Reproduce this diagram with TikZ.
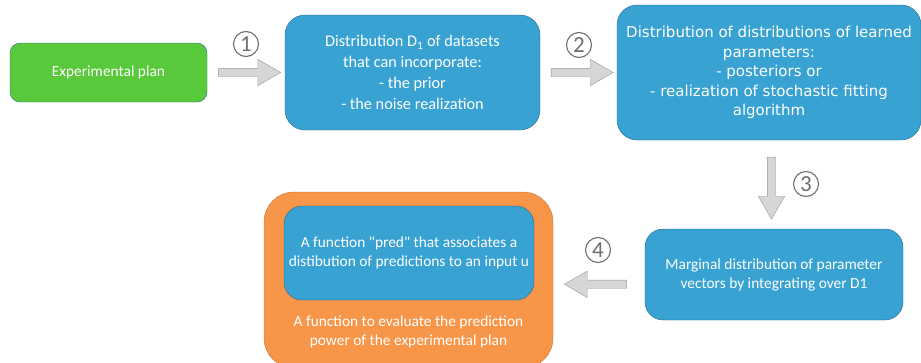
\documentclass[tikz,border=0pt]{standalone}
\usepackage{fontspec}
\setmainfont{Carlito}
\newfontfamily\dejavu{DejaVu Sans}
\usetikzlibrary{shapes.arrows,calc}

\definecolor{boxblue}{RGB}{56,162,210}
\definecolor{edgeblue}{RGB}{45,105,140}
\definecolor{plangreen}{RGB}{88,201,58}
\definecolor{evalorange}{RGB}{247,150,72}
\definecolor{edgeorange}{RGB}{190,115,55}
\definecolor{arrowgray}{RGB}{214,214,214}
\definecolor{arrowedge}{RGB}{150,150,150}
\definecolor{numgray}{RGB}{110,110,110}

\tikzset{
  box/.style={draw=edgeblue, fill=boxblue, text=white, rounded corners=#1,
    align=center, inner sep=0pt},
  box/.default=20pt,
  fatarrow/.style={single arrow, draw=arrowedge, fill=arrowgray,
    minimum height=62pt, minimum width=26pt, single arrow head extend=9pt,
    single arrow tip angle=60, inner sep=4pt},
  num/.style={circle, draw=numgray, line width=1.1pt, text=numgray,
    minimum size=25pt, inner sep=0pt, font=\fontsize{23}{23}\selectfont}
}

\begin{document}
\begin{tikzpicture}[x=1pt,y=-1pt]
    \useasboundingbox (0,0) rectangle (921,362);
    \clip (0,0) rectangle (921,362);
    % boxes
    \node[box=10pt, fill=plangreen, minimum width=197pt, minimum height=59pt,
      font=\fontsize{15.4}{20}\selectfont] (plan) at (108.5,72.5) {Experimental plan};
    \node[box, minimum width=255pt, minimum height=115pt,
      font=\fontsize{16.3}{21}\selectfont] (data) at (412.5,72.5)
      {Distribution D\textsubscript{1} of datasets\\that can incorporate:\\- the prior\\- the noise realization};
    \node[box, minimum width=304pt, minimum height=135pt,
      font=\dejavu\fontsize{15}{19.5}\selectfont] (post) at (769,72.5)
      {Distribution of distributions of learned\\parameters:\\- posteriors or\\- realization of stochastic fitting\\algorithm};
    \node[box=18pt, minimum width=258pt, minimum height=91pt,
      font=\fontsize{15.4}{19}\selectfont] (marg) at (774,274.5)
      {Marginal distribution of parameter\\vectors by integrating over D1};
    \node[box=30pt, draw=edgeorange, fill=evalorange, minimum width=289pt,
      minimum height=176pt] (eval) at (408.5,280) {};
    \node[box=18pt, minimum width=250pt, minimum height=94pt,
      font=\fontsize{15.4}{19}\selectfont] (pred) at (409,253)
      {A function \textquotedbl pred\textquotedbl{} that associates a\\distibution of predictions to an input u};
    \node[text=white, align=center, font=\fontsize{15.4}{19}\selectfont]
      (evaltext) at (408.5,331.5)
      {A function to evaluate the prediction\\power of the experimental plan};
    % arrows
    \node[fatarrow] (a1) at ($(plan.east)!0.5!(data.west)$) {};
    \node[fatarrow] (a2) at ($(data.east)!0.5!(post.west)$) {};
    \node[fatarrow, shape border rotate=270] (a3) at ($(post.south)!0.5!(marg.north)$) {};
    \node[fatarrow, shape border rotate=180] (a4) at ($(eval.east)!0.5!(marg.west)+(0,7)$) {};
    % step numbers
    \node[num] (n1) at (246,44) {1};
    \node[num] (n2) at (579,45) {2};
    \node[num] (n3) at (806,184) {3};
    \node[num] (n4) at (598,250) {4};
\end{tikzpicture}
\end{document}
